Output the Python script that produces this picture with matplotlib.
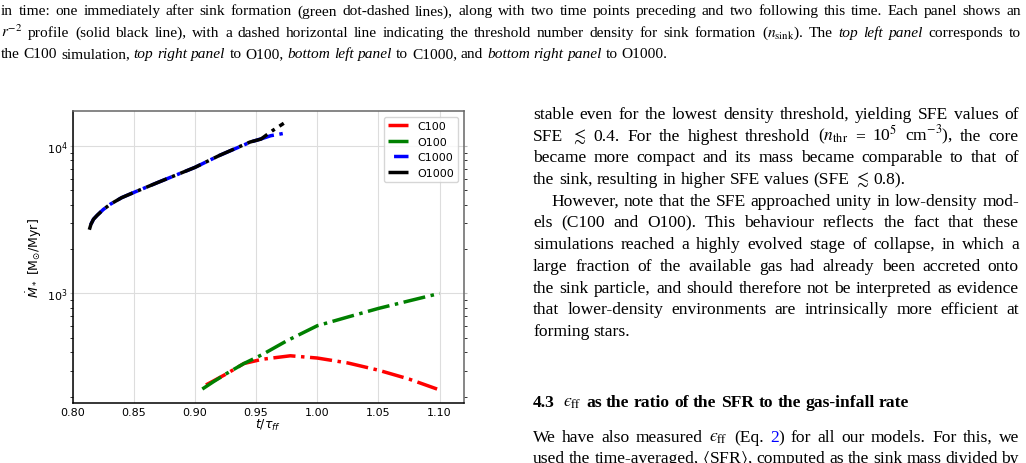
import matplotlib
matplotlib.use('Agg')
import matplotlib.pyplot as plt
from matplotlib.transforms import IdentityTransform

# accretion rates (t / tau_ff, Mdot in Msun/Myr)
t_c100 = [0.909, 0.915, 0.925, 0.940, 0.955, 0.978, 1.000, 1.025, 1.050, 1.075, 1.098]
m_c100 = [240, 255, 283, 335, 358, 378, 365, 338, 302, 263, 225]

t_o100 = [0.906, 0.915, 0.925, 0.940, 0.955, 0.975, 1.000, 1.025, 1.050, 1.075, 1.100]
m_o100 = [225, 252, 284, 335, 385, 477, 604, 692, 791, 890, 1000]

t_c1000 = [0.8136, 0.8150, 0.8170, 0.8200, 0.8250, 0.8310, 0.8400, 0.8500, 0.8700, 0.9000,
           0.9200, 0.9460, 0.9550, 0.9620, 0.9718]
m_c1000 = [2700, 2950, 3180, 3380, 3700, 4030, 4450, 4830, 5660, 7140,
           8600, 10640, 11200, 11700, 12100]

t_o1000 = [0.8136, 0.8150, 0.8170, 0.8200, 0.8250, 0.8310, 0.8400, 0.8500, 0.8700, 0.9000,
           0.9200, 0.9450, 0.9540, 0.9630, 0.9726]
m_o1000 = [2700, 2950, 3180, 3380, 3700, 4030, 4450, 4830, 5660, 7140,
           8600, 10600, 11100, 12600, 14200]

xticks = [0.80, 0.85, 0.90, 0.95, 1.00, 1.05, 1.10]

W, H = 1026, 464
fig = plt.figure(figsize=(W / 100, H / 100), dpi=100)

ax = fig.add_axes([72.7 / W, 1 - 404 / H, (464 - 72.7) / W, (404 - 112) / H])
ax.plot(t_c100, m_c100, color='red', ls='-.', lw=2.5, label='C100')
ax.plot(t_o100, m_o100, color='green', ls='-.', lw=2.5, label='O100')
ax.plot(t_c1000, m_c1000, color='blue', ls=(9, (6.4, 1.6, 1, 1.6)), lw=2.5, label='C1000')
ax.plot(t_o1000, m_o1000, color='black', ls='-.', lw=2.5, label='O1000')
ax.set_yscale('log')
ax.set_xlim(0.80, 1.12)
ax.set_ylim(181, 17200)
ax.set_xticks(xticks)
ax.set_xticklabels(['%.2f' % v for v in xticks])
ax.grid(True, which='major', color='#dddddd', lw=0.8)
ax.tick_params(axis='x', length=0, pad=3, labelsize=8)
ax.tick_params(axis='y', which='major', length=2, color='#bbbbbb', pad=1.5, labelsize=8,
               right=True)
ax.tick_params(axis='y', which='minor', length=2, width=0.7, color='#333333', right=True)
for s in ['left', 'bottom']:
    ax.spines[s].set_color('black')
    ax.spines[s].set_linewidth(1.1)
for s in ['top', 'right']:
    ax.spines[s].set_color('#666666')
    ax.spines[s].set_linewidth(1.1)
ax.set_xlabel(r'$t/\tau_{ff}$', fontsize=9, labelpad=0)
ax.set_ylabel(r'$\dot{M}_*$ [M$_{\odot}$/Myr]', fontsize=9, labelpad=2)
ax.legend(loc='upper right', fontsize=8, handlelength=1.8, framealpha=0.8)

# ---- surrounding page text ----
FS = 12.6
FS_CAP = 11.1
SERIF = 'Liberation Serif'
renderer = fig.canvas.get_renderer()


def to_words(segs):
    words = [[]]
    for text, style in segs:
        parts = text.split(' ')
        for k, p in enumerate(parts):
            if k > 0:
                words.append([])
            if p:
                words[-1].append((p, style))
    return [w for w in words if w]


def make(s, style, size):
    kw = dict(fontsize=size, family=SERIF, math_fontfamily='stix', va='baseline',
              ha='left', transform=IdentityTransform())
    if style == 'i':
        kw['style'] = 'italic'
    if style == 'b':
        kw['weight'] = 'bold'
    if style == 'blue':
        kw['color'] = 'blue'
    return fig.text(0, 0, s, **kw)


def draw_line(segs, x0, ytop, x1=None, size=FS):
    y = H - ytop
    words = []
    for w in to_words(segs):
        arts = [make(s, st, size) for s, st in w]
        widths = [a.get_window_extent(renderer).width for a in arts]
        words.append((arts, widths))
    total = sum(sum(ws) for _, ws in words)
    gap = size * 100 / 72 * 0.25
    if x1 is not None and len(words) > 1:
        gap = (x1 - x0 - total) / (len(words) - 1)
    x = x0
    for arts, ws in words:
        for a, w in zip(arts, ws):
            a.set_position((x, y))
            x += w
        x += gap


n = ''
eps = '$\u03f5_\\mathrm{ff}$'
cap1 = [('in time: one immediately after sink formation (green dot-dashed lines), along with two '
         'time points preceding and two following this time. Each panel shows an', n)]
cap2 = [(r'$r^{-2}$ profile (solid black line), with a dashed horizontal line indicating the '
         r'threshold number density for sink formation ($n_\mathrm{sink}$). The ', n),
        ('top left panel', 'i'), (' corresponds to', n)]
cap3 = [('the C100 simulation, ', n), ('top right panel', 'i'), (' to O100, ', n),
        ('bottom left panel', 'i'), (' to C1000, and ', n), ('bottom right panel', 'i'),
        (' to O1000.', n)]
draw_line(cap1, 1, 15.5, 1021, size=FS_CAP)
draw_line(cap2, 1, 37, 1021, size=FS_CAP)
draw_line(cap3, 1, 58.5, size=FS_CAP)

col = [
    ('stable even for the lowest density threshold, yielding SFE values of', True, 533),
    (r'SFE $\lesssim$ 0.4. For the highest threshold ($n_\mathrm{thr}$ = 10$^5$ cm$^{-3}$), the core',
     True, 533),
    ('became more compact and its mass became comparable to that of', True, 533),
    (r'the sink, resulting in higher SFE values (SFE $\lesssim$ 0.8).', False, 533),
    ('However, note that the SFE approached unity in low-density mod-', True, 551),
    ('els (C100 and O100). This behaviour reflects the fact that these', True, 533),
    ('simulations reached a highly evolved stage of collapse, in which a', True, 533),
    ('large fraction of the available gas had already been accreted onto', True, 533),
    ('the sink particle, and should therefore not be interpreted as evidence', True, 533),
    ('that lower-density environments are intrinsically more efficient at', True, 533),
    ('forming stars.', False, 533),
]
for i, (txt, just, x0) in enumerate(col):
    draw_line([(txt, n)], x0, 119 + 21.7 * i, 1019 if just else None)

draw_line([('4.3', 'b')], 533, 407)
draw_line([(eps, n), (' as the ratio of the SFR to the gas-infall rate', 'b')], 563, 407)
draw_line([('We have also measured ' + eps + ' (Eq. ', n), ('2', 'blue'),
           (') for all our models. For this, we', n)], 533, 442, 1019)
draw_line([(r'used the time-averaged, $\langle$SFR$\rangle$, computed as the sink mass divided by', n)],
          533, 463.5, 1019)

fig.savefig('out.png', dpi=100)
